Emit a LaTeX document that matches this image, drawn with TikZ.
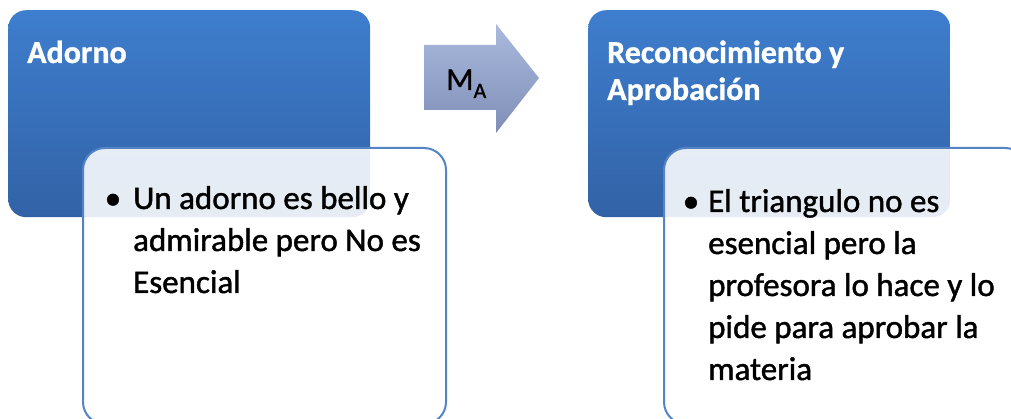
\documentclass[tikz,border=0pt]{standalone}
\usepackage{fontspec}
\setmainfont{Carlito}
\definecolor{bluetop}{RGB}{62,126,206}
\definecolor{bluebot}{RGB}{50,98,166}
\definecolor{wborder}{RGB}{84,132,198}
\definecolor{arrtop}{RGB}{170,186,222}
\definecolor{arrbot}{RGB}{126,142,182}
\begin{document}
\begin{tikzpicture}[x=1pt,y=-1pt,
  bluebox/.style={rounded corners=18pt, top color=bluetop, bottom color=bluebot, draw=none, anchor=north west, inner sep=0pt},
  whitebox/.style={rounded corners=22pt, draw=wborder, line width=2pt, fill=white, fill opacity=0.88, draw opacity=1, anchor=north west, inner sep=0pt},
  titletext/.style={anchor=base west, inner sep=0pt, text=white, font=\fontsize{32}{37}\selectfont\bfseries\addfontfeature{FakeBold=1}},
  bodytext/.style={anchor=base west, inner sep=0pt, text=black, font=\fontsize{33}{42}\selectfont\addfontfeature{FakeBold=1.3}}]
\useasboundingbox (0,0) rectangle (1011,419);
\clip (0,0) rectangle (1011,419);
% blue header boxes
\node[bluebox, minimum width=362pt, minimum height=207pt] (b1) at (8,10) {};
\node[bluebox, minimum width=362pt, minimum height=207pt] (b2) at (588,10) {};
% white content boxes
\node[whitebox, minimum width=363pt, minimum height=276pt] (w1) at (82,147) {};
\node[whitebox, minimum width=363pt, minimum height=276pt] (w2) at (663,147) {};
% arrow
\coordinate (aL) at (424,78);
\coordinate (aT) at (539,78);
\path[top color=arrtop, bottom color=arrbot] (424,45) -- (496,45) -- (496,24) -- (aT) -- (496,133) -- (496,110) -- (424,110) -- cycle;
\node[anchor=base west, inner sep=0pt, font=\fontsize{32}{32}\selectfont\addfontfeature{FakeBold=1}] (ma) at (446,90) {M\raisebox{-8pt}{\fontsize{22}{22}\selectfont A}};
% titles
\node[titletext] (t1) at (27,63) {Adorno};
\node[titletext] (t2) at (607,63) {\vtop{\hbox{Reconocimiento y}\hbox{Aprobación}}};
% bodies
\node[bodytext] (p1) at (133,209) {\vtop{\hbox{\llap{\textbullet\hspace{12pt}}Un adorno es bello y}\hbox{admirable pero No es}\hbox{Esencial}}};
\node[bodytext] (p2) at (708,212) {\vtop{\hbox{\llap{\textbullet\hspace{9pt}}El triangulo no es}\hbox{esencial pero la}\hbox{profesora lo hace y lo}\hbox{pide para aprobar la}\hbox{materia}}};
\end{tikzpicture}
\end{document}
